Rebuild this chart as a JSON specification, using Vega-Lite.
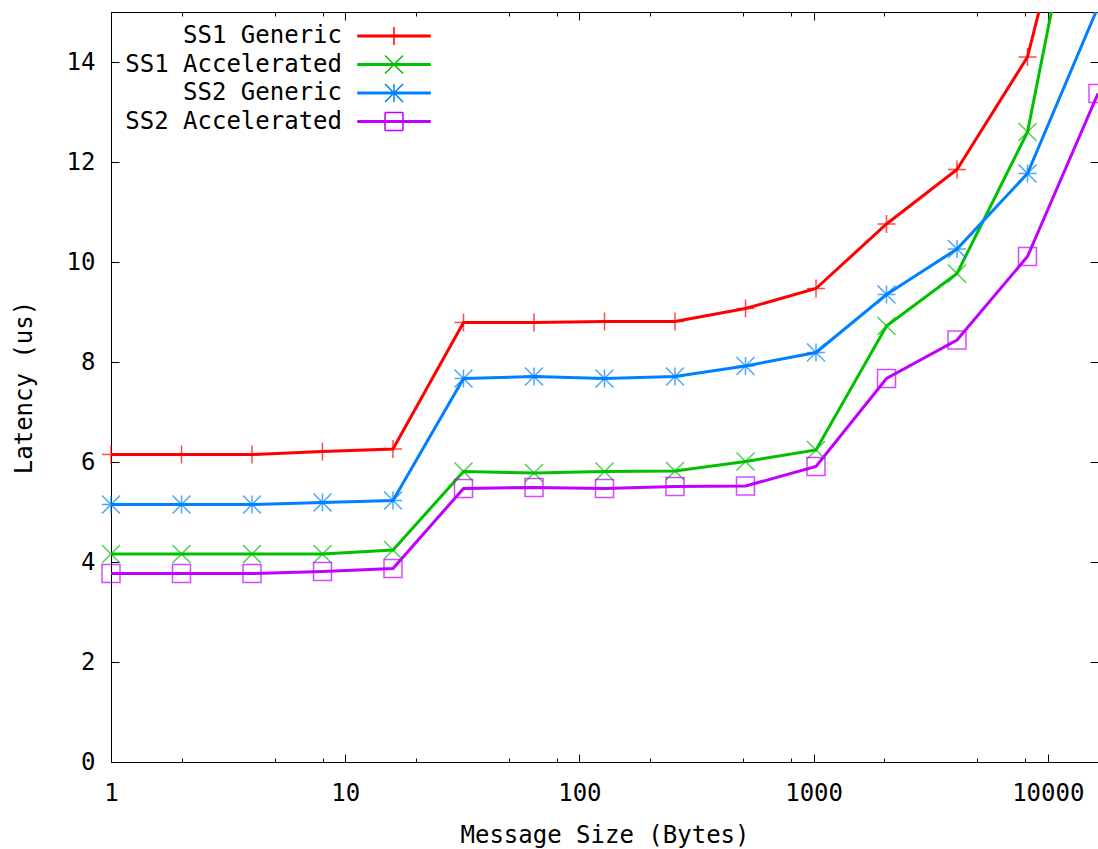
{
  "$schema": "https://vega.github.io/schema/vega-lite/v6.json",
  "width": 987,
  "height": 750,
  "autosize": {"type": "none"},
  "padding": {"left": 111, "top": 12, "right": 0, "bottom": 87},
  "background": "white",
  "config": {
    "view": {"stroke": null},
    "axis": {
      "grid": false,
      "domainColor": "#000000",
      "tickColor": "#000000",
      "labelColor": "#000000",
      "titleColor": "#000000",
      "labelFont": "DejaVu Sans Mono",
      "titleFont": "DejaVu Sans Mono",
      "labelFontSize": 24,
      "titleFontSize": 24,
      "titleFontWeight": "normal",
      "domainWidth": 1,
      "tickWidth": 1
    }
  },
  "data": {
    "values": [
      {"series": "SS1 Generic", "size": 1, "latency": 6.15},
      {"series": "SS1 Generic", "size": 2, "latency": 6.15},
      {"series": "SS1 Generic", "size": 4, "latency": 6.15},
      {"series": "SS1 Generic", "size": 8, "latency": 6.21},
      {"series": "SS1 Generic", "size": 16, "latency": 6.26},
      {"series": "SS1 Generic", "size": 32, "latency": 8.79},
      {"series": "SS1 Generic", "size": 64, "latency": 8.79},
      {"series": "SS1 Generic", "size": 128, "latency": 8.81},
      {"series": "SS1 Generic", "size": 256, "latency": 8.81},
      {"series": "SS1 Generic", "size": 512, "latency": 9.07},
      {"series": "SS1 Generic", "size": 1024, "latency": 9.47},
      {"series": "SS1 Generic", "size": 2048, "latency": 10.76},
      {"series": "SS1 Generic", "size": 4096, "latency": 11.85},
      {"series": "SS1 Generic", "size": 8192, "latency": 14.1},
      {"series": "SS1 Generic", "size": 16384, "latency": 19.7},
      {"series": "SS1 Accelerated", "size": 1, "latency": 4.16},
      {"series": "SS1 Accelerated", "size": 2, "latency": 4.16},
      {"series": "SS1 Accelerated", "size": 4, "latency": 4.16},
      {"series": "SS1 Accelerated", "size": 8, "latency": 4.16},
      {"series": "SS1 Accelerated", "size": 16, "latency": 4.24},
      {"series": "SS1 Accelerated", "size": 32, "latency": 5.81},
      {"series": "SS1 Accelerated", "size": 64, "latency": 5.78},
      {"series": "SS1 Accelerated", "size": 128, "latency": 5.81},
      {"series": "SS1 Accelerated", "size": 256, "latency": 5.82},
      {"series": "SS1 Accelerated", "size": 512, "latency": 6.01},
      {"series": "SS1 Accelerated", "size": 1024, "latency": 6.24},
      {"series": "SS1 Accelerated", "size": 2048, "latency": 8.72},
      {"series": "SS1 Accelerated", "size": 4096, "latency": 9.77},
      {"series": "SS1 Accelerated", "size": 8192, "latency": 12.6},
      {"series": "SS1 Accelerated", "size": 16384, "latency": 19.7},
      {"series": "SS2 Generic", "size": 1, "latency": 5.15},
      {"series": "SS2 Generic", "size": 2, "latency": 5.15},
      {"series": "SS2 Generic", "size": 4, "latency": 5.15},
      {"series": "SS2 Generic", "size": 8, "latency": 5.19},
      {"series": "SS2 Generic", "size": 16, "latency": 5.23},
      {"series": "SS2 Generic", "size": 32, "latency": 7.67},
      {"series": "SS2 Generic", "size": 64, "latency": 7.71},
      {"series": "SS2 Generic", "size": 128, "latency": 7.67},
      {"series": "SS2 Generic", "size": 256, "latency": 7.71},
      {"series": "SS2 Generic", "size": 512, "latency": 7.92},
      {"series": "SS2 Generic", "size": 1024, "latency": 8.19},
      {"series": "SS2 Generic", "size": 2048, "latency": 9.35},
      {"series": "SS2 Generic", "size": 4096, "latency": 10.26},
      {"series": "SS2 Generic", "size": 8192, "latency": 11.77},
      {"series": "SS2 Generic", "size": 16384, "latency": 15.1},
      {"series": "SS2 Accelerated", "size": 1, "latency": 3.77},
      {"series": "SS2 Accelerated", "size": 2, "latency": 3.77},
      {"series": "SS2 Accelerated", "size": 4, "latency": 3.77},
      {"series": "SS2 Accelerated", "size": 8, "latency": 3.81},
      {"series": "SS2 Accelerated", "size": 16, "latency": 3.87},
      {"series": "SS2 Accelerated", "size": 32, "latency": 5.47},
      {"series": "SS2 Accelerated", "size": 64, "latency": 5.49},
      {"series": "SS2 Accelerated", "size": 128, "latency": 5.47},
      {"series": "SS2 Accelerated", "size": 256, "latency": 5.51},
      {"series": "SS2 Accelerated", "size": 512, "latency": 5.52},
      {"series": "SS2 Accelerated", "size": 1024, "latency": 5.91},
      {"series": "SS2 Accelerated", "size": 2048, "latency": 7.67},
      {"series": "SS2 Accelerated", "size": 4096, "latency": 8.44},
      {"series": "SS2 Accelerated", "size": 8192, "latency": 10.11},
      {"series": "SS2 Accelerated", "size": 16384, "latency": 13.37}
    ]
  },
  "layer": [
    {
      "mark": {"type": "line", "strokeWidth": 3, "clip": true},
      "encoding": {
        "x": {
          "field": "size", "type": "quantitative",
          "scale": {"type": "log", "domain": [1, 16384], "nice": false},
          "axis": {
            "orient": "bottom", "values": [1, 10, 100, 1000, 10000], "format": "d",
            "tickSize": -8, "labelPadding": 46, "labelBaseline": "alphabetic", "labelDx": 6,
            "labelFlush": false, "labelOverlap": false,
            "title": "Message Size (Bytes)", "titleY": 80, "titleBaseline": "alphabetic"
          }
        },
        "y": {
          "field": "latency", "type": "quantitative",
          "scale": {"domain": [0, 15], "nice": false, "zero": false},
          "axis": {
            "orient": "left", "values": [0, 2, 4, 6, 8, 10, 12, 14],
            "tickSize": -8, "labelPadding": 24, "labelOverlap": false, "labelFlush": false,
            "title": "Latency (us)", "titleX": -80, "titleBaseline": "alphabetic"
          }
        },
        "color": {
          "field": "series", "type": "nominal",
          "scale": {"domain": ["SS1 Generic", "SS1 Accelerated", "SS2 Generic", "SS2 Accelerated"], "range": ["#ff0000", "#00c000", "#0080ff", "#c000ff"]},
          "legend": null
        }
      }
    },
    {
      "transform": [{"filter": "datum.latency <= 15"}],
      "mark": {"type": "point", "filled": false, "size": 324, "strokeWidth": 1.5},
      "encoding": {
        "x": {
          "field": "size", "type": "quantitative",
          "scale": {"type": "log", "domain": [1, 16384], "nice": false},
          "axis": {"orient": "top", "values": [1, 10, 100, 1000, 10000], "tickSize": -8, "labels": false, "domain": true, "title": null}
        },
        "y": {
          "field": "latency", "type": "quantitative",
          "scale": {"domain": [0, 15], "nice": false, "zero": false},
          "axis": {"orient": "right", "values": [0, 2, 4, 6, 8, 10, 12, 14], "tickSize": -8, "labels": false, "domain": false, "title": null}
        },
        "stroke": {
          "field": "series", "type": "nominal",
          "scale": {"domain": ["SS1 Generic", "SS1 Accelerated", "SS2 Generic", "SS2 Accelerated"], "range": ["#ff0000", "#00c000", "#0080ff", "#c000ff"]},
          "legend": null
        },
        "shape": {
          "field": "series", "type": "nominal",
          "scale": {
            "domain": ["SS1 Generic", "SS1 Accelerated", "SS2 Generic", "SS2 Accelerated"],
            "range": ["M-1,0H1M0,-1V1", "M-1,-1L1,1M-1,1L1,-1", "M-1,0H1M0,-1V1M-1,-1L1,1M-1,1L1,-1", "M-1,-1H1V1H-1Z"]
          },
          "legend": null
        }
      }
    },
    {
      "mark": {"type": "point", "filled": true, "size": 324, "strokeWidth": 1.5, "opacity": 0},
      "encoding": {
        "x": {
          "field": "size", "type": "quantitative",
          "scale": {"type": "log", "domain": [1, 16384], "nice": false},
          "axis": {"orient": "bottom", "values": [2, 5, 8, 20, 50, 80, 200, 500, 800, 2000, 5000, 8000], "tickSize": -4, "labels": false, "domain": false, "title": null}
        },
        "y": {
          "field": "latency", "type": "quantitative",
          "scale": {"domain": [0, 15], "nice": false, "zero": false},
          "axis": null
        },
        "fill": {
          "field": "series", "type": "nominal",
          "scale": {"domain": ["SS1 Generic", "SS1 Accelerated", "SS2 Generic", "SS2 Accelerated"], "range": ["#ff0000", "#00c000", "#0080ff", "#c000ff"]},
          "legend": {"orient": "none", "legendX": 271, "legendY": 12, "title": null, "padding": 0, "symbolSize": 324, "symbolStrokeWidth": 1.5, "symbolOpacity": 1, "labelAlign": "right", "labelOffset": -64, "labelFont": "DejaVu Sans Mono", "labelFontSize": 24, "labelColor": "#000000", "labelLimit": 500, "rowPadding": 4.5}
        },
        "stroke": {
          "field": "series", "type": "nominal",
          "scale": {"domain": ["SS1 Generic", "SS1 Accelerated", "SS2 Generic", "SS2 Accelerated"], "range": ["#ff0000", "#00c000", "#0080ff", "#c000ff"]},
          "legend": {"orient": "none", "legendX": 271, "legendY": 12, "title": null, "padding": 0, "symbolSize": 324, "symbolStrokeWidth": 1.5, "symbolOpacity": 1, "labelAlign": "right", "labelOffset": -64, "labelFont": "DejaVu Sans Mono", "labelFontSize": 24, "labelColor": "#000000", "labelLimit": 500, "rowPadding": 4.5}
        },
        "shape": {
          "field": "series", "type": "nominal",
          "scale": {
            "domain": ["SS1 Generic", "SS1 Accelerated", "SS2 Generic", "SS2 Accelerated"],
            "range": [
              "M-4,-0.09H4V0.09H-4ZM0,-1V1",
              "M-4,-0.09H4V0.09H-4ZM-1,-1L1,1M-1,1L1,-1",
              "M-4,-0.09H4V0.09H-4ZM0,-1V1M-1,-1L1,1M-1,1L1,-1",
              "M-4,-0.09H4V0.09H-4ZM-1,-1H1M1,-1V1M1,1H-1M-1,1V-1"
            ]
          },
          "legend": {"orient": "none", "legendX": 271, "legendY": 12, "title": null, "padding": 0, "symbolSize": 324, "symbolStrokeWidth": 1.5, "symbolOpacity": 1, "labelAlign": "right", "labelOffset": -64, "labelFont": "DejaVu Sans Mono", "labelFontSize": 24, "labelColor": "#000000", "labelLimit": 500, "rowPadding": 4.5}
        }
      }
    },
    {
      "mark": {"type": "point", "opacity": 0},
      "encoding": {
        "x": {
          "field": "size", "type": "quantitative",
          "scale": {"type": "log", "domain": [1, 16384], "nice": false},
          "axis": {"orient": "top", "values": [2, 5, 8, 20, 50, 80, 200, 500, 800, 2000, 5000, 8000], "tickSize": -4, "labels": false, "domain": false, "title": null}
        },
        "y": {
          "field": "latency", "type": "quantitative",
          "scale": {"domain": [0, 15], "nice": false, "zero": false},
          "axis": null
        }
      }
    }
  ],
  "resolve": {
    "scale": {"shape": "independent", "fill": "independent", "stroke": "independent"},
    "axis": {"x": "independent", "y": "independent"}
  }
}
